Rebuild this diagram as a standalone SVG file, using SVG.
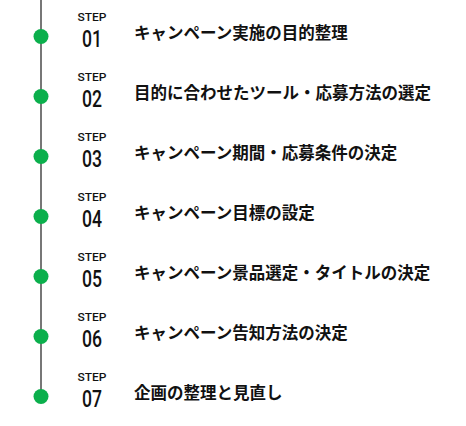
<svg xmlns="http://www.w3.org/2000/svg" width="466" height="426" viewBox="0 0 466 426">
<style>
.step{font-family:Roboto,"Liberation Sans",sans-serif;font-size:11px;font-weight:500;fill:#111;text-anchor:middle}
.num{font-family:Roboto,"Liberation Sans",sans-serif;font-size:24px;font-weight:500;fill:#111;text-anchor:middle}
.lbl{font-family:"Noto Sans CJK JP",sans-serif;font-size:16.5px;font-weight:700;fill:#111}
.dot{fill:#0BAF4C}
</style>
<rect width="466" height="426" fill="#fff"/>
<g id="connectors">
<line x1="41" y1="0" x2="41" y2="396" stroke="#777" stroke-width="2"/>
</g>
<g id="step1"><circle class="dot" cx="41" cy="36.5" r="7.5"/><text class="step" x="92" y="21" textLength="29" lengthAdjust="spacingAndGlyphs">STEP</text><text class="num" x="92" y="47" textLength="20" lengthAdjust="spacingAndGlyphs">01</text><text class="lbl" x="134" y="39">キャンペーン実施の目的整理</text></g>
<g id="step2"><circle class="dot" cx="41" cy="96.5" r="7.5"/><text class="step" x="92" y="81" textLength="29" lengthAdjust="spacingAndGlyphs">STEP</text><text class="num" x="92" y="107" textLength="20" lengthAdjust="spacingAndGlyphs">02</text><text class="lbl" x="134" y="99">目的に合わせたツール・応募方法の選定</text></g>
<g id="step3"><circle class="dot" cx="41" cy="156.5" r="7.5"/><text class="step" x="92" y="141" textLength="29" lengthAdjust="spacingAndGlyphs">STEP</text><text class="num" x="92" y="167" textLength="20" lengthAdjust="spacingAndGlyphs">03</text><text class="lbl" x="134" y="159">キャンペーン期間・応募条件の決定</text></g>
<g id="step4"><circle class="dot" cx="41" cy="216.5" r="7.5"/><text class="step" x="92" y="201" textLength="29" lengthAdjust="spacingAndGlyphs">STEP</text><text class="num" x="92" y="227" textLength="20" lengthAdjust="spacingAndGlyphs">04</text><text class="lbl" x="134" y="219">キャンペーン目標の設定</text></g>
<g id="step5"><circle class="dot" cx="41" cy="276.5" r="7.5"/><text class="step" x="92" y="261" textLength="29" lengthAdjust="spacingAndGlyphs">STEP</text><text class="num" x="92" y="287" textLength="20" lengthAdjust="spacingAndGlyphs">05</text><text class="lbl" x="134" y="279">キャンペーン景品選定・タイトルの決定</text></g>
<g id="step6"><circle class="dot" cx="41" cy="336.5" r="7.5"/><text class="step" x="92" y="321" textLength="29" lengthAdjust="spacingAndGlyphs">STEP</text><text class="num" x="92" y="347" textLength="20" lengthAdjust="spacingAndGlyphs">06</text><text class="lbl" x="134" y="339">キャンペーン告知方法の決定</text></g>
<g id="step7"><circle class="dot" cx="41" cy="396.5" r="7.5"/><text class="step" x="92" y="381" textLength="29" lengthAdjust="spacingAndGlyphs">STEP</text><text class="num" x="92" y="407" textLength="20" lengthAdjust="spacingAndGlyphs">07</text><text class="lbl" x="134" y="399">企画の整理と見直し</text></g>
</svg>
